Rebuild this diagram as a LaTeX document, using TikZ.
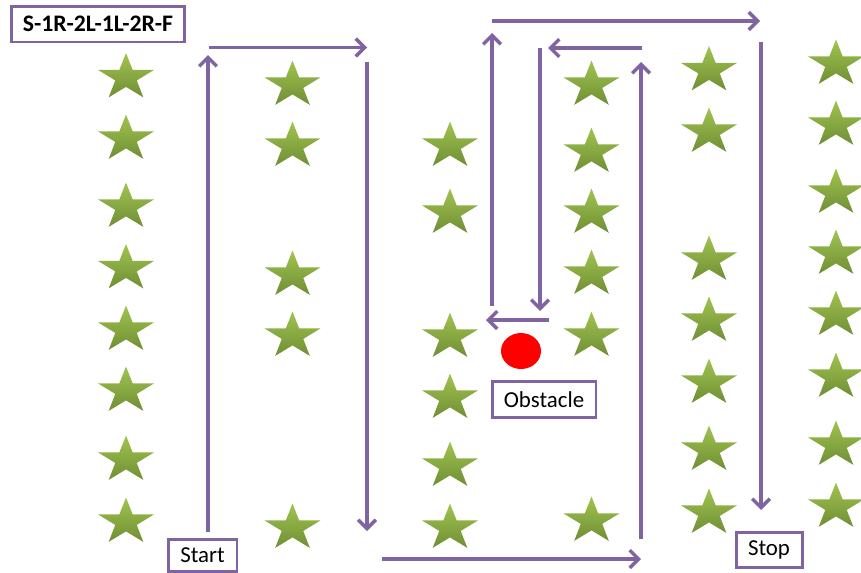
\documentclass[tikz,border=0pt]{standalone}
\usepackage{fontspec}
\setmainfont{Carlito}
\definecolor{routepurple}{RGB}{128,100,162}
\definecolor{starlight}{RGB}{160,196,80}
\definecolor{stardark}{RGB}{112,142,52}
\definecolor{obstaclered}{RGB}{255,0,0}
\usetikzlibrary{shapes.geometric,arrows.meta}

\begin{document}
\begin{tikzpicture}[x=0.02cm, y=-0.02cm,
    tree/.style={star, star points=5, star point ratio=2.6, minimum size=0.98cm, inner sep=0pt,
        top color=starlight, bottom color=stardark, transform shape, xscale=1.2},
    route/.style={routepurple, line width=2pt, -{Straight Barb[length=5pt, width=10pt]}},
    tagbox/.style={rectangle, draw=routepurple, line width=1.7pt, fill=white, inner sep=0pt,
        font=\fontsize{13}{15}\selectfont}
]
    \useasboundingbox (0,0) rectangle (861,572);

    % Stars, one column at a time
    \foreach \y [count=\i] in {77.5,139,207,268.5,330,391,460,522}
        \node[tree] (a\i) at (126,\y) {};
    \foreach \y [count=\i] in {85,146,275,336,528}
        \node[tree] (b\i) at (292.5,\y) {};
    \foreach \y [count=\i] in {146,213,337,398,466,528}
        \node[tree] (c\i) at (450,\y) {};
    \foreach \y [count=\i] in {85,152,213,274,336,521}
        \node[tree] (d\i) at (591.5,\y) {};
    \foreach \y [count=\i] in {70.5,132,260,321,383,450,513}
        \node[tree] (e\i) at (709,\y) {};
    \foreach \y [count=\i] in {64,125,193,254,315,377,445,507}
        \node[tree] (f\i) at (836,\y) {};

    % Obstacle
    \node[ellipse, fill=obstaclered, minimum width=0.8cm, minimum height=0.72cm, inner sep=0pt] (obst) at (521,351) {};

    % Labels
    \node[tagbox, minimum width=3.46cm, minimum height=0.72cm, font=\fontsize{13.5}{15}\selectfont\bfseries] (code) at (98,24) {S-1R-2L-1L-2R-F};
    \node[tagbox, minimum width=1.38cm, minimum height=0.64cm] (start) at (202.5,555) {Start};
    \node[tagbox, minimum width=1.32cm, minimum height=0.7cm] (stop) at (769,549.5) {Stop};
    \node[tagbox, minimum width=2.08cm, minimum height=0.72cm] (obstlbl) at (544,399.5) {Obstacle};

    % Route corners
    \coordinate (r1a) at (208,532);  \coordinate (r1b) at (208,55);
    \coordinate (r2a) at (209,47.5); \coordinate (r2b) at (367,47.5);
    \coordinate (r3a) at (367,62);   \coordinate (r3b) at (367,531);
    \coordinate (r4a) at (382,559);  \coordinate (r4b) at (641,559);
    \coordinate (r5a) at (641,539);  \coordinate (r5b) at (641,62);
    \coordinate (r6a) at (642,48);   \coordinate (r6b) at (548,48);
    \coordinate (r7a) at (540,48);   \coordinate (r7b) at (540,311);
    \coordinate (r8a) at (549,320);  \coordinate (r8b) at (486,320);
    \coordinate (r9a) at (492,306);  \coordinate (r9b) at (492,33);
    \coordinate (r10a) at (492,21);  \coordinate (r10b) at (760,21);
    \coordinate (r11a) at (761,42);  \coordinate (r11b) at (761,510);

    % Route
    \foreach \k in {1,...,11}
        \draw[route] (r\k a) -- (r\k b);
\end{tikzpicture}
\end{document}
